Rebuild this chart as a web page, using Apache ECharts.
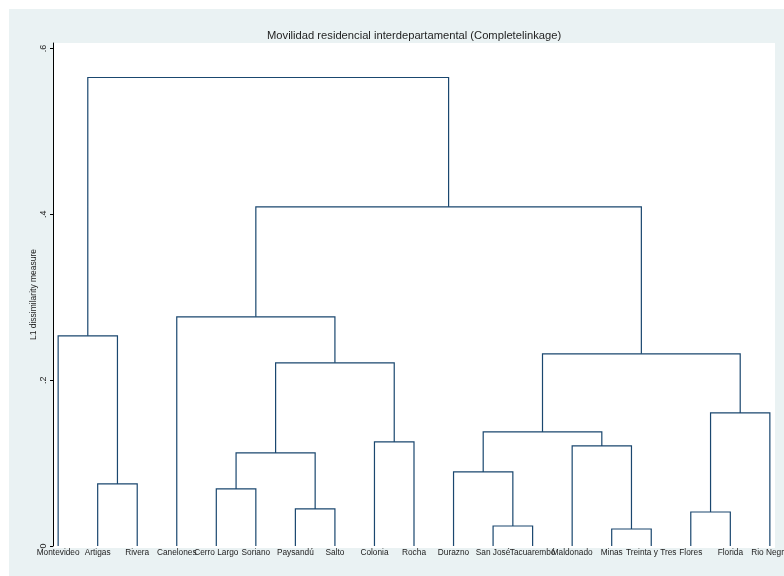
<!DOCTYPE html>
<html>
<head>
<meta charset="utf-8">
<script src="https://cdn.jsdelivr.net/npm/echarts@6/dist/echarts.min.js"></script>
<style>html,body{margin:0;padding:0;background:#fff}#c{width:784px;height:576px}</style>
</head>
<body>
<div id="c"></div>
<script>
// Leaves in dendrogram order
var leaves = ["Montevideo","Artigas","Rivera","Canelones","Cerro Largo","Soriano","Paysandú","Salto","Colonia","Rocha","Durazno","San José","Tacuarembó","Maldonado","Minas","Treinta y Tres","Flores","Florida","Rio Negro"];
// Merges: node ids 0..18 are leaves, merge k creates node 19+k
var mergeLeft   = [1, 0, 4, 6, 21, 8, 23, 3, 11, 10, 14, 13, 28, 16, 32, 31, 26, 20];
var mergeRight  = [2, 19, 5, 7, 22, 9, 24, 25, 12, 27, 15, 29, 30, 17, 18, 33, 34, 35];
var mergeHeight = [0.0748, 0.2535, 0.0688, 0.0447, 0.1123, 0.1255, 0.2209, 0.2764, 0.0241, 0.0893, 0.0205, 0.1207, 0.1376, 0.041, 0.1605, 0.2317, 0.409, 0.565];
var yTicks = [0, 0.2, 0.4, 0.6];
var yTickLabels = ["0", ".2", ".4", ".6"];

// node positions (x = leaf index / mean of children, y = height)
var nodeX = [], nodeY = [];
for (var i = 0; i < leaves.length; i++) { nodeX.push(i); nodeY.push(0); }
var segs = [];
for (var k = 0; k < mergeLeft.length; k++) {
  var a = mergeLeft[k], b = mergeRight[k], h = mergeHeight[k];
  segs.push([nodeX[a], nodeY[a], nodeX[b], nodeY[b], h]);
  nodeX.push((nodeX[a] + nodeX[b]) / 2);
  nodeY.push(h);
}
var leafIdx = leaves.map(function(_, i){ return i; });

var chart = echarts.init(document.getElementById('c'), null, {renderer: 'canvas'});
var lineColor = '#1a476f';
chart.setOption({
  backgroundColor: '#ffffff',
  animation: false,
  textStyle: {fontFamily: 'Liberation Sans, Arial, sans-serif'},
  title: {
    text: 'Movilidad residencial interdepartamental (Completelinkage)',
    left: 267, top: 30.5, padding: 0,
    textStyle: {fontSize: 11.2, fontWeight: 'normal', color: '#1e1e1e', fontFamily: 'Liberation Sans, Arial, sans-serif'}
  },
  graphic: [
    {type: 'rect', z: -10, silent: true, shape: {x: 9, y: 9, width: 775, height: 567}, style: {fill: '#eaf2f3'}},
    {type: 'rect', z: -9, silent: true, shape: {x: 53, y: 43, width: 722, height: 505}, style: {fill: '#ffffff'}}
  ],
  grid: {left: 53, right: 9, top: 43, bottom: 30, containLabel: false, outerBoundsMode: 'none'},
  xAxis: {
    type: 'value', min: -0.13, max: 18.13, z: 5,
    axisLine: {show: false, onZero: false}, axisTick: {show: false}, splitLine: {show: false},
    axisLabel: {
      customValues: leafIdx, margin: 3, fontSize: 8.3, color: '#222', hideOverlap: false,
      formatter: function(v){ return leaves[Math.round(v)] || ''; }
    }
  },
  yAxis: {
    type: 'value', min: 0, max: 0.6066, z: 5,
    name: 'L1 dissimilarity measure', nameLocation: 'middle', nameGap: 15, nameMoveOverlap: false,
    nameTextStyle: {fontSize: 8.5, color: '#222'},
    axisLine: {show: true, onZero: false, lineStyle: {color: '#000', width: 1}},
    axisTick: {show: true, length: 3, customValues: yTicks, lineStyle: {color: '#000'}},
    splitLine: {show: false},
    axisLabel: {
      customValues: yTicks, rotate: 90, margin: 5, fontSize: 9, color: '#222',
      formatter: function(v){ var i = yTicks.indexOf(Math.round(v*10)/10); return i >= 0 ? yTickLabels[i] : ''; }
    }
  },
  series: [{
    type: 'custom',
    z: 3,
    data: segs,
    encode: {x: [0, 2], y: [1, 3, 4]},
    renderItem: function(params, api) {
      var p1 = api.coord([api.value(0), api.value(1)]);
      var p2 = api.coord([api.value(0), api.value(4)]);
      var p3 = api.coord([api.value(2), api.value(4)]);
      var p4 = api.coord([api.value(2), api.value(3)]);
      return {
        type: 'polyline',
        shape: {points: [p1, p2, p3, p4]},
        style: {fill: null, stroke: lineColor, lineWidth: 1.2}
      };
    }
  }]
});
</script>
</body>
</html>
